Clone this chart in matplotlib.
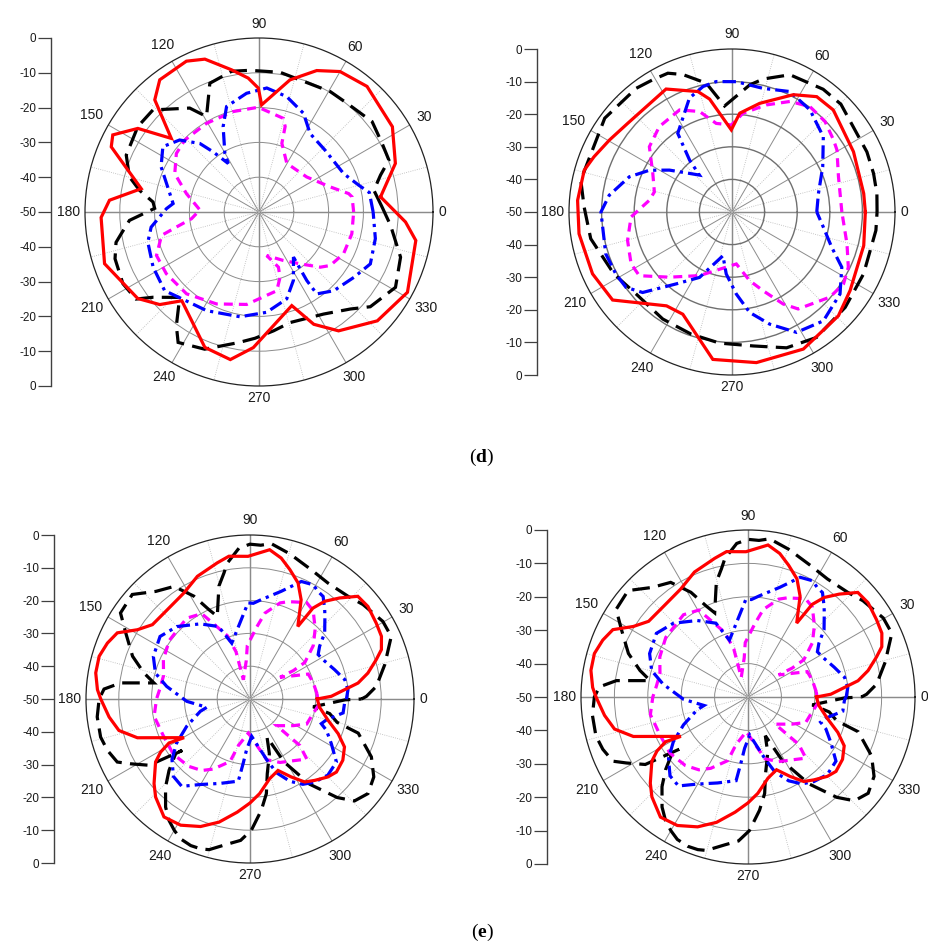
import numpy as np
import matplotlib
matplotlib.use('Agg')
import matplotlib.pyplot as plt

plt.rcParams['font.family'] = ['Liberation Sans', 'DejaVu Sans']
plt.rcParams['mathtext.fontset'] = 'custom'
plt.rcParams['mathtext.rm'] = 'Liberation Serif'
plt.rcParams['mathtext.bf'] = 'Liberation Serif:bold'

W, H = 929, 943

# ---- (d) left panel: angle (deg), gain (dB) ----
dl_red_ang = [7.1, 19.6, 32.6, 49.3, 60, 67.8, 76.8, 88.6, 90.3, 94.6, 100.9, 109.5, 115.7, 126.9, 132.9,
              140, 145.4, 152.2, 156.2, 168.8, 175.5, 182, 198.5, 215.5, 223, 229, 248.2, 259, 267.6,
              289.3, 296, 303.8, 317.4, 331.6, 349.7, 356.1]
dl_red_db = [-14.8, -8.4, -4.5, -2.4, -3.4, -6.1, -11, -19.2, -14.4, -11.4, -8.4, -3.4, -1.9, -2.5, -6,
             -17.1, -7.7, -2.5, -3.6, -15.5, -6.9, -4.6, -3.2, -7.2, -11, -16.2, -8.1, -6.8, -11,
             -21.5, -14.1, -8.9, -3.8, -1.5, -4.2, -7.8]
dl_blk_ang = [2.3, 10.7, 16.9, 21.8, 29.1, 38.6, 51, 59.4, 81.4, 93.7, 101, 110.9, 118.8, 123.7, 136.1,
              144.8, 156.8, 164.8, 169.7, 174.6, 178, 183.7, 189, 192, 198, 207.8, 215.3, 218.8, 227.1,
              234, 238.2, 248.4, 261, 268.2, 277, 285.7, 302.3, 313.3, 319.6, 331.1, 342.3, 354.2]
dl_blk_db = [-14.6, -16.4, -13.5, -9.8, -9.5, -8.4, -9.8, -9.8, -9.4, -9.2, -8.8, -10.4, -18.7, -14.1, -7.7,
             -7.4, -8.5, -11.4, -15.1, -19.4, -20, -12.7, -9.9, -8, -6.5, -5.8, -6.7, -10.9, -16.5,
             -9.6, -5.9, -7.6, -12, -13.7, -15.6, -17, -15.3, -11.7, -8, -5.2, -7.3, -12]
dl_blu_ang = [0, 10, 15, 24.4, 43.1, 56.9, 65.7, 76.5, 86.4, 96, 107.1, 112.8, 120.2, 122.4, 127.3,
              130.8, 137.8, 145.8, 155.2, 174.4, 177.9, 188, 195.2, 207.5, 219.8, 230.7, 242, 259.7,
              274.4, 287.7, 296.7, 307.4, 304.9, 305.2, 313.5, 325.4, 335, 347.1]
dl_blu_db = [-17.2, -17.8, -20.3, -23.3, -24, -23.1, -18.9, -15.9, -14.3, -15.7, -18.3, -23.4, -30.5, -33.5, -28.3,
             -24, -19.2, -16.6, -19, -25.2, -23.4, -18.7, -16.9, -15.7, -14.7, -17, -17.9, -19.4,
             -21.1, -23.8, -28, -33.7, -26, -21.2, -18.8, -16.9, -14.7, -15.7]
dl_mag_ang = [0, 9.2, 11.6, 19.4, 36.3, 60.2, 71.6, 73, 75.4, 90.4, 104.4, 120.6, 135.9, 144.7, 155.5,
              165.8, 178, 185.7, 190.3, 193.5, 203, 213.7, 228.5, 245.2, 262.4, 282.7, 287.9, 289.4,
              280, 296.7, 308.4, 318, 323.1, 333.7, 346.8]
dl_mag_db = [-22.8, -22.9, -23.7, -28.3, -33, -33.9, -29.2, -24.3, -22.2, -19.9, -20.2, -20.4, -20.3, -20.9, -23.4,
             -28.5, -33, -30.5, -25.9, -21.2, -18, -18, -18.6, -20.9, -23.2, -26.8, -30.3, -33.2,
             -37.3, -34.4, -31, -26.3, -24.4, -22.9, -22.6]

# ---- (d) right panel ----
dr_red_ang = [0, 8, 26.4, 45.2, 53.7, 62.4, 75.7, 85.5, 90.5, 101.2, 105.8, 118.2, 139.7, 149.6, 158.2,
              164.2, 175.7, 188.1, 203.9, 216.4, 235.1, 244.3, 262.6, 279.2, 297.5, 315.7, 326.4, 345.7]
dr_red_db = [-9.1, -9.2, -8.4, -5.9, -6.1, -9.4, -15.6, -19.6, -24.8, -14.7, -11.6, -7.2, -8, -6.4, -4.4,
             -2.9, -2.5, -2.6, -3.2, -4.5, -14.9, -15.2, -4.4, -3.2, -2.6, -4.4, -6.5, -8.3]
dr_blk_ang = [0, 7.2, 15.2, 24, 44.7, 53.4, 67.1, 76.8, 82, 94, 101.3, 109.7, 114.8, 121, 127.8,
              143.6, 168.1, 178, 190.7, 207.7, 220.5, 237.1, 251.5, 264.6, 279, 291.9, 304, 319.9,
              334.8, 352.7]
dr_blk_db = [-5.5, -5.2, -5, -4.7, -3, -3.1, -4.3, -8.1, -10.6, -17.4, -9.7, -5.2, -3.1, -2.7, -2,
             -1.5, -2.6, -4.6, -5.9, -9.1, -11.3, -10.9, -10.5, -9.6, -8.4, -5.1, -3.6, -4.6,
             -5.4, -5.5]
dr_blu_ang = [0, 12, 26.5, 39.5, 52.6, 64.3, 75.9, 88.1, 96.9, 103, 110.5, 124.6, 129.3, 131.4, 146.2,
              153.2, 161.1, 172.2, 180, 198.3, 208.1, 215.4, 222, 232.2, 243.6, 258.3, 264.7, 273,
              280, 288.6, 298.2, 310, 322.8, 333.3, 340.6, 350.6]
dr_blu_db = [-24, -22.9, -18.9, -13.7, -10.6, -9, -10.9, -10, -9.7, -10.5, -12.7, -20.7, -29.5, -34.9, -26.9,
             -21.6, -16.7, -12, -9.8, -9.2, -9.6, -10.1, -13.1, -22.1, -27.6, -36.3, -30.9, -24.8,
             -18.7, -13.7, -8.1, -6.4, -8.4, -12.3, -17.6, -21.6]
dr_mag_ang = [0, 18.3, 30.6, 35.4, 44.2, 53.5, 62.3, 72.2, 83.6, 90.4, 100.1, 107.9, 117.2, 130.4, 141.7,
              154.1, 165.5, 171.9, 182.8, 195.2, 207.2, 214.5, 226.2, 243, 264.1, 274.8, 284.5, 291.6,
              299.1, 304.3, 319, 327.2, 334.6, 344.5]
dr_mag_db = [-16.3, -15.6, -12.6, -11.8, -10.2, -9.8, -11.7, -15.5, -19.5, -23.3, -22.4, -17.6, -14.8, -15.6, -17.7,
             -23, -25.4, -24.4, -19, -16.8, -15.2, -15.5, -22.3, -28.1, -33, -34, -28.2, -24,
             -17.7, -14, -10.2, -9.3, -10.5, -13.4]

# ---- (e) panels (left and right show the same patterns) ----
e_red_ang = [0, 1.9, 8.4, 12.4, 17.3, 20.6, 25.5, 31, 38.1, 43.6, 48.4, 52.6, 55.3, 56.6, 62.7, 67.5,
             72.9, 77.5, 82.5, 90.8, 98.4, 103.5, 113.2, 121.9, 132.8, 142.7, 148.4, 153.5, 158.6,
             164.2, 170.4, 176.5, 180, 187.3, 193.5, 199, 210.4, 208.5, 210.7, 213.7, 221.4, 226.1,
             233.9, 241.2, 248.8, 255.9, 263.6, 270, 275.8, 283.9, 291.4, 297.9, 303.4, 308.5, 315,
             319.8, 326.6, 333.1, 338.5, 344.7, 353.4]
e_red_db = [-29.5, -25.2, -16.7, -13.2, -9.7, -7.2, -5.6, -5.1, -4.3, -4.6, -8.8, -12.5, -16.3, -23.5, -16, -11.7,
            -8.7, -6, -4.1, -6.5, -6, -7.3, -9.3, -11.9, -12.9, -12.6, -9.7, -4.8, -3.3,
            -2.2, -2.3, -3.4, -4.5, -6.7, -8.9, -13.7, -26.7, -21.9, -18.3, -15.4, -11, -8.5,
            -5.5, -6.1, -8.3, -11.3, -15.3, -18.3, -21, -25, -26.6, -23.1, -19.7, -18.3, -16.4,
            -15.5, -16.1, -17.7, -21.1, -25.3, -28.7]
e_blk_ang = [0, 1.3, 5.7, 14.3, 23.9, 30.3, 39.9, 46.3, 56.1, 64.6, 74.7, 82.2, 86, 90, 94.2, 99.5,
             101.7, 105.4, 111.6, 114.7, 118.6, 124, 131.2, 138.4, 146.4, 152, 160, 166.2, 170.5,
             172.9, 176.1, 180, 186.7, 194.3, 199.8, 205.4, 208.5, 213.3, 217.2, 216.3, 221.4, 226.2,
             232, 236.3, 240, 243.6, 248, 251.8, 254.8, 261.1, 266.2, 270.6, 275.8, 279.8, 283,
             289.5, 294.1, 298.4, 305, 311.5, 315.7, 321.3, 327.8, 334.5, 342.5, 345, 349.6, 353, 359.5]
e_blk_db = [-16, -14.5, -11.3, -7.6, -2.9, -3.1, -5.1, -6.7, -7.4, -6.4, -4.1, -2.2, -3, -2.8, -3.9, -8,
            -10.8, -14.3, -22.9, -20, -14.3, -8.6, -6.4, -2, -2.6, -7.1, -11.9, -16.7, -20.3,
            -10.3, -5.4, -4, -3.1, -3, -3.8, -5.2, -8.6, -13.2, -24.1, -21.9, -17.1, -12.8,
            -8.2, -5.5, -3.8, -2.4, -1.8, -1.9, -2.4, -5.2, -6.8, -10, -15.9, -20.7, -26.6,
            -32.3, -37.3, -28.2, -18.3, -9.9, -5.5, -3.9, -5.4, -9, -15.4, -22.5, -25.3, -30.6, -21]
e_blu_ang = [0, 5.4, 11.5, 19.1, 28.3, 33.1, 37.1, 41.5, 47.8, 50.1, 54.5, 57.7, 61, 66.4, 73.8, 83.5,
             88, 91.2, 108.1, 113.5, 123.6, 135.3, 145.2, 156.2, 164.7, 171.4, 182.1, 190.9, 193.9,
             203.3, 211, 217.8, 225.3, 232, 239.7, 250.5, 261.9, 264, 266.2, 272.6, 285.4, 289.8,
             295.9, 301.8, 307.9, 315.6, 323.9, 331.2, 337.7, 340.9, 344.9, 351.5, 358.2]
e_blu_db = [-20.6, -20, -20.5, -22.7, -24.7, -25.2, -23.4, -19.6, -16, -14.5, -11.6, -11.2, -10.2, -10.9, -15.8, -19.5,
            -20.8, -20.7, -32.1, -25.9, -22.5, -18.6, -16.6, -17.8, -20.1, -24.3, -30.7, -36.6, -34.4,
            -29, -23.9, -19.9, -16.8, -16.2, -19.8, -22.7, -24.7, -30.4, -34.6, -38.6, -30.8, -26.1,
            -22.1, -19.4, -17.9, -16.8, -17.4, -21.7, -24.8, -27, -25.8, -21.3, -21.1]
e_mag_ang = [4.4, 14.7, 23.2, 35.8, 33.2, 33.7, 40.1, 47.1, 54.4, 59.6, 68.5, 72.6, 80.1, 84.7, 92.9,
             95.5, 109, 106.5, 109.7, 119.5, 128.1, 144.1, 155.6, 164.9, 173, 180, 190.2, 203, 215.7,
             227.5, 236, 242.4, 252.3, 256, 267.2, 285.4, 295.3, 305.1, 313.4, 317, 315, 328.4,
             336.2, 344.9, 355]
e_mag_db = [-29.5, -30.1, -30.7, -38.7, -34.2, -29.9, -24.8, -20.8, -16.9, -15.9, -18.1, -19.3, -23.4, -28, -33.7,
            -38.2, -43.8, -35, -29.5, -20.1, -18.7, -19.6, -21, -22.7, -22.4, -21.5, -20.3, -21.3, -21.2,
            -22.2, -23.7, -25.9, -30, -35.4, -39.6, -30.8, -28.6, -27, -24.8, -29.2, -38.5, -34.5,
            -31.1, -30.5, -29]

theta_labels = list(range(0, 360, 30))
side_ticks = list(range(-50, 51, 10))
side_labels = ['0' if abs(t) == 50 else str(abs(t) - 50) for t in side_ticks]

STYLES = {
    'black': dict(color='black', lw=2.3, dashes=(5.5, 2.6)),
    'magenta': dict(color='#ff00ff', lw=2.3, dashes=(2.8, 1.9)),
    'blue': dict(color='#0000ff', lw=2.3, dashes=(4.2, 1.6, 1.0, 1.6)),
    'red': dict(color='#ff0000', lw=2.3, ls='-'),
}


def label_radius(a, text, R):
    # pixel distance from centre to label centre, Origin-like gap outside the ring
    c, s = abs(np.cos(np.deg2rad(a))), np.sin(np.deg2rad(a))
    w, h = 7.6 * len(text), 10.0
    d = R + 5.5 + c * w / 2 + abs(s) * h / 2 + (4.0 * s if s > 0 else 1.5 * abs(s))
    return 50.0 * (d / R - 1.0)


def polar_panel(fig, cx, cy, R, sx, series, grid_col='#8c8c8c', grid_lw=0.7):
    ax = fig.add_axes([(cx - R) / W, 1 - (cy + R) / H, 2 * R / W, 2 * R / H], projection='polar')
    ax.set_ylim(-50, 0)
    ax.set_yticks([-40, -30, -20, -10])
    ax.set_yticklabels([])
    ax.set_xticks(np.deg2rad(theta_labels))
    ax.set_xticklabels([])
    ax.set_xticks(np.deg2rad(np.arange(15, 360, 30)), minor=True)
    ax.tick_params(axis='x', length=0, which='both')
    ax.xaxis.grid(True, which='major', color='#8c8c8c', lw=0.7)
    ax.yaxis.grid(True, which='major', color=grid_col, lw=grid_lw)
    ax.xaxis.grid(True, which='minor', color='#b5b5b5', lw=0.6, ls=':')
    ax.spines['polar'].set_color('#222222')
    ax.spines['polar'].set_linewidth(0.9)
    # darker cross lines at 0/90/180/270
    for a in (0, 90):
        ax.plot(np.deg2rad([a, a + 180]), [0, 0], color='#777777', lw=1.0, zorder=1.5)
    for name in ('black', 'magenta', 'blue', 'red'):
        ang, db = series[name]
        t = np.deg2rad(np.r_[ang, ang[0]])
        r = np.r_[db, db[0]]
        ax.plot(t, r, solid_joinstyle='miter', dash_joinstyle='miter', zorder=3, **STYLES[name])
    for a in theta_labels:
        ax.text(np.deg2rad(a), label_radius(a, str(a), R), str(a), ha='center', va='center',
                fontsize=10, color='#1a1a1a', clip_on=False)

    # side dB scale
    sa = fig.add_axes([sx / W, 1 - (cy + R) / H, 0.002, 2 * R / H])
    sa.set_ylim(-50, 50)
    sa.set_xlim(0, 1)
    sa.set_yticks(side_ticks)
    sa.set_yticklabels(side_labels, fontsize=8.4, color='#1a1a1a')
    sa.set_xticks([])
    for s in ('top', 'right', 'bottom'):
        sa.spines[s].set_visible(False)
    sa.spines['left'].set_color('#404040')
    sa.spines['left'].set_linewidth(1.0)
    sa.tick_params(axis='y', direction='out', length=9.5, width=0.9, color='#404040', pad=1)
    sa.patch.set_alpha(0)
    return ax


fig = plt.figure(figsize=(W / 100, H / 100), dpi=100)

polar_panel(fig, 259, 212, 174, 51, {
    'red': (dl_red_ang, dl_red_db), 'black': (dl_blk_ang, dl_blk_db),
    'blue': (dl_blu_ang, dl_blu_db), 'magenta': (dl_mag_ang, dl_mag_db)})
polar_panel(fig, 732, 212, 163, 537, {
    'red': (dr_red_ang, dr_red_db), 'black': (dr_blk_ang, dr_blk_db),
    'blue': (dr_blu_ang, dr_blu_db), 'magenta': (dr_mag_ang, dr_mag_db)},
    grid_col='#6f6f6f', grid_lw=1.0)
e_series = {'red': (e_red_ang, e_red_db), 'black': (e_blk_ang, e_blk_db),
            'blue': (e_blu_ang, e_blu_db), 'magenta': (e_mag_ang, e_mag_db)}
polar_panel(fig, 250, 699, 164, 54, e_series)
polar_panel(fig, 748, 697, 167, 547, e_series)

fig.text(482 / W, 1 - 457 / H, r'($\mathbf{d}$)', ha='center', va='center', fontsize=14,
         family='Liberation Serif')
fig.text(482 / W, 1 - 932 / H, r'($\mathbf{e}$)', ha='center', va='center', fontsize=14,
         family='Liberation Serif')

fig.savefig('out.png', dpi=100)
